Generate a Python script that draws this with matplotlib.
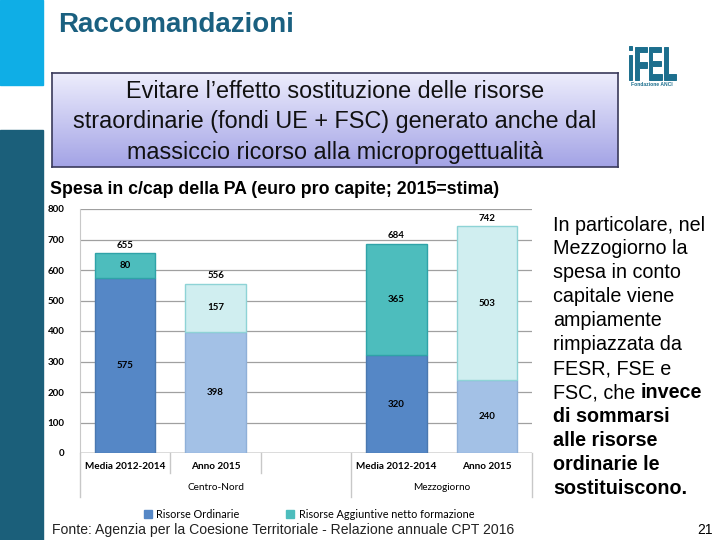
import numpy as np
import matplotlib
matplotlib.use("Agg")
import matplotlib.pyplot as plt
from matplotlib import font_manager
from matplotlib.font_manager import FontProperties
from matplotlib.patches import Rectangle, Patch, PathPatch
from matplotlib.lines import Line2D
from matplotlib.textpath import TextPath
from matplotlib.transforms import Affine2D

# data
periods = ["Media 2012-2014", "Anno 2015"]
areas = ["Centro-Nord", "Mezzogiorno"]
ordinarie = [575, 398, 320, 240]
aggiuntive = [80, 157, 365, 503]
totali = [655, 556, 684, 742]
yticks = [0, 100, 200, 300, 400, 500, 600, 700, 800]

right_lines = [
    ("In particolare, nel", ""),
    ("Mezzogiorno la", ""),
    ("spesa in conto", ""),
    ("capitale viene", ""),
    ("ampiamente", ""),
    ("rimpiazzata da", ""),
    ("FESR, FSE e", ""),
    ("FSC, che ", "invece"),
    ("", "di sommarsi"),
    ("", "alle risorse"),
    ("", "ordinarie le"),
    ("", "sostituiscono."),
]

installed = {f.name for f in font_manager.fontManager.ttflist}
sans = "Liberation Sans" if "Liberation Sans" in installed else "DejaVu Sans"
chartf = "Lato" if "Lato" in installed else "DejaVu Sans"

col_ord = ["#5587C6", "#A3C1E6", "#5587C6", "#A3C1E6"]
col_agg = ["#4DBDBD", "#D0EEF0", "#4DBDBD", "#D0EEF0"]
edge_ord = ["#4A78B0", "#8FB0D8", "#4A78B0", "#8FB0D8"]
edge_agg = ["#2FA3A8", "#8ED3D6", "#2FA3A8", "#8ED3D6"]

W, H = 720, 540
fig = plt.figure(figsize=(7.2, 5.4), dpi=100)


def fx(px):
    return px / W


def fy(py):
    return 1 - py / H


# decorative side bars
fig.patches.append(Rectangle((0, fy(85)), fx(43), 85 / H, transform=fig.transFigure,
                             color="#0FAEE6", zorder=0))
fig.patches.append(Rectangle((0, 0), fx(43), fy(130), transform=fig.transFigure,
                             color="#1B5F7A", zorder=0))

fig.text(fx(58), fy(25), "Raccomandazioni", fontsize=20, fontweight="bold",
         color="#1A6080", family=sans, va="center", ha="left")

# gradient box
bx = fig.add_axes([fx(52), fy(167), fx(618 - 52), (167 - 73) / H])
grad = np.linspace(0, 1, 100).reshape(-1, 1)
top = np.array([0.93, 0.93, 0.99])
bot = np.array([0.64, 0.64, 0.90])
img = top + (bot - top) * grad[:, :, None]
bx.imshow(img, aspect="auto", extent=[0, 1, 0, 1])
bx.set_xticks([])
bx.set_yticks([])
for s in bx.spines.values():
    s.set_color("#3A3A5A")
    s.set_linewidth(1.2)
box_text = ["Evitare l\u2019effetto sostituzione delle risorse",
            "straordinarie (fondi UE + FSC) generato anche dal",
            "massiccio ricorso alla microprogettualit\u00e0"]
for i, t in enumerate(box_text):
    fig.text(fx(335), fy(92 + 30 * i), t, fontsize=16.8, family=sans,
             ha="center", va="center", color="#111111")

# logo, squeezed text path with a thin stroke to keep it heavy
tp = TextPath((0, 0), "iFEL", size=1, prop=FontProperties(family=sans, weight="bold"))
ext = tp.get_extents()
sx = 47 / ext.width
sy = 34 / ext.height
tr = (Affine2D().translate(-ext.x0, -ext.y0).scale(sx / W, sy / H)
      .translate(fx(629), fy(79.5)) + fig.transFigure)
fig.patches.append(PathPatch(tp, transform=tr, facecolor="#1D6F8E",
                             edgecolor="#1D6F8E", lw=0.7))
fig.text(fx(652), fy(85), "Fondazione ANCI", fontsize=3.6, fontweight="bold",
         family=sans, color="#1D6F8E", ha="center", va="center")

fig.text(fx(50), fy(190), "Spesa in c/cap della PA (euro pro capite; 2015=stima)",
         fontsize=12.8, fontweight="bold", family=sans, ha="left", va="center")

# chart
ax = fig.add_axes([fx(80), fy(453), fx(532 - 80), (453 - 209) / H])
xs = [0, 1, 3, 4]
ax.bar(xs, ordinarie, width=0.67, color=col_ord, edgecolor=edge_ord, linewidth=1, zorder=3)
ax.bar(xs, aggiuntive, width=0.67, bottom=ordinarie, color=col_agg, edgecolor=edge_agg,
       linewidth=1, zorder=3)
for x, o, a, t in zip(xs, ordinarie, aggiuntive, totali):
    ax.text(x, o / 2, str(o), ha="center", va="center", fontsize=7, fontweight="bold",
            family=chartf, zorder=4)
    ax.text(x, o + a / 2, str(a), ha="center", va="center", fontsize=7, fontweight="bold",
            family=chartf, zorder=4)
    ax.text(x, o + a + 12, str(t), ha="center", va="bottom", fontsize=7, fontweight="bold",
            family=chartf, zorder=4)

ax.set_xlim(-0.5, 4.5)
ax.set_ylim(0, 800)
ax.set_yticks(yticks)
ax.set_yticklabels([str(v) for v in yticks], fontsize=7, family=chartf, fontweight="bold")
ax.tick_params(axis="y", length=0, pad=11)
ax.set_xticks([])
ax.grid(axis="y", color="#A0A0A0", linewidth=0.9, zorder=0)
for s in ["top", "right", "bottom"]:
    ax.spines[s].set_visible(False)
ax.spines["left"].set_color("#C8C8C8")
ax.axhline(0, color="#808080", linewidth=1, zorder=2)

xt = ax.get_xaxis_transform()
for x, lab in zip(xs, periods * 2):
    ax.text(x, -0.057, lab, transform=xt, ha="center", va="center", fontsize=7.2,
            family=chartf, fontweight="bold")
for x, lab in zip([1, 3.5], areas):
    ax.text(x, -0.143, lab, transform=xt, ha="center", va="center", fontsize=7.2,
            family=chartf)
for x in [0.5, 1.5]:
    ax.add_line(Line2D([x, x], [0, -0.082], transform=xt, color="#C8C8C8",
                       linewidth=1, clip_on=False))
for x in [-0.5, 2.5, 4.5]:
    ax.add_line(Line2D([x, x], [0, -0.18], transform=xt, color="#C8C8C8",
                       linewidth=1, clip_on=False))

handles = [Patch(color="#5587C6", label="Risorse Ordinarie"),
           Patch(color="#4DBDBD", label="Risorse Aggiuntive netto formazione")]
fig.legend(handles=handles, loc="center", bbox_to_anchor=(fx(309), fy(514)),
           ncol=2, frameon=False, handlelength=0.75, handleheight=0.75,
           columnspacing=4.3, handletextpad=0.4, prop={"family": chartf, "size": 7.8})

# right-hand text
fig.canvas.draw()
rend = fig.canvas.get_renderer()
for i, (norm, bold) in enumerate(right_lines):
    y = fy(225 + 24 * i)
    x = fx(553)
    if norm:
        t = fig.text(x, y, norm, fontsize=14.2, family=sans, ha="left", va="center")
        bb = t.get_window_extent(renderer=rend)
        x = bb.x1 / fig.bbox.width
    if bold:
        fig.text(x, y, bold, fontsize=14.2, family=sans, fontweight="bold",
                 ha="left", va="center")

fig.text(fx(52), fy(530), "Fonte: Agenzia per la Coesione Territoriale - Relazione annuale CPT 2016",
         fontsize=10.1, family=sans, ha="left", va="center", color="#222222")
fig.text(fx(713), fy(530), "21", fontsize=10, family=sans, ha="right", va="center")

fig.savefig("out.png", dpi=100)
